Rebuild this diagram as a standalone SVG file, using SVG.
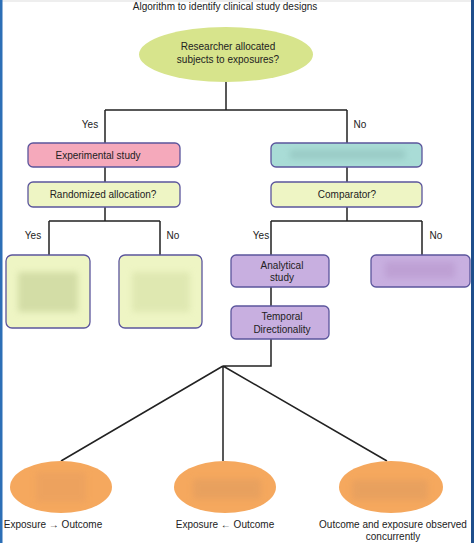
<svg xmlns="http://www.w3.org/2000/svg" width="474" height="543" viewBox="0 0 474 543">
<defs>
<style>
text{font-family:"Liberation Sans",Arial,sans-serif;font-size:10px;fill:#222;text-anchor:middle}
.c{stroke:#222;stroke-width:1.5;fill:none}
.box{stroke:#5b559c;stroke-width:1.3}
.pink{fill:#f5a9bb}
.yel{fill:#eef5c4}
.teal{fill:#a9dcd6}
.pur{fill:#c8afe0}
.org{fill:#f5a85e}
</style>
<filter id="bl" x="-30%" y="-50%" width="160%" height="200%"><feGaussianBlur stdDeviation="3"/></filter>
</defs>
<rect width="474" height="543" fill="#fff"/>
<rect x="0" y="0" width="474" height="2" fill="#eeeeee"/>
<rect x="0" y="0" width="2.5" height="543" fill="#2c6fb6"/>
<rect x="471" y="0" width="3" height="543" fill="#1f4f8c"/>
<text x="225" y="10">Algorithm to identify clinical study designs</text>

<g id="connectors">
<path class="c" d="M226 82V110M105 110H347M105 110V143M347 110V143"/>
<path class="c" d="M105 167V182M105 207V221M49 221H160M49 221V255M160 221V255"/>
<path class="c" d="M347 167V182M347 207V221M271 221H422M271 221V255M422 221V255"/>
<path class="c" d="M271 287V306M271 339V366H223M223 366L61 461M223 366V461M223 366L387 461"/>
</g>
<g id="labels">
<text x="90" y="128">Yes</text>
<text x="360" y="128">No</text>
<text x="33" y="239">Yes</text>
<text x="173" y="239">No</text>
<text x="261" y="239">Yes</text>
<text x="436" y="239">No</text>
</g>

<g id="n-root">
<ellipse cx="226" cy="54.5" rx="87" ry="27.5" fill="#d7e48c"/>
<text x="228" y="50">Researcher allocated</text>
<text x="228" y="63">subjects to exposures?</text>
</g>
<g id="n-experimental">
<rect class="box pink" x="28" y="143" width="152" height="24" rx="5"/>
<text x="98" y="158.5">Experimental study</text>
</g>
<g id="n-randomized">
<rect class="box yel" x="28" y="182" width="152" height="25" rx="5"/>
<text x="103" y="198">Randomized allocation?</text>
</g>
<g id="n-observational">
<rect class="box teal" x="271" y="143" width="151" height="24" rx="5"/>
<rect x="290" y="150" width="115" height="9" fill="#8fbfba" opacity="0.6" filter="url(#bl)"/>
</g>
<g id="n-comparator">
<rect class="box yel" x="271" y="182" width="151" height="25" rx="5"/>
<text x="347" y="198">Comparator?</text>
</g>
<g id="n-rct">
<rect class="box yel" x="6" y="255" width="84" height="73" rx="6"/>
<rect x="18" y="272" width="60" height="40" fill="#c8d39a" opacity="0.7" filter="url(#bl)"/>
</g>
<g id="n-nonrandom">
<rect class="box yel" x="119" y="255" width="83" height="73" rx="6"/>
<rect x="132" y="272" width="58" height="40" fill="#d6e0a6" opacity="0.6" filter="url(#bl)"/>
</g>
<g id="n-analytical">
<rect class="box pur" x="231" y="255" width="98" height="32" rx="5"/>
<text x="282" y="268.5">Analytical</text>
<text x="282" y="281">study</text>
</g>
<g id="n-descriptive">
<rect class="box pur" x="371" y="255" width="99" height="32" rx="5"/>
<rect x="385" y="262" width="70" height="16" fill="#b896cc" opacity="0.6" filter="url(#bl)"/>
</g>
<g id="n-temporal">
<rect class="box pur" x="231" y="306" width="98" height="33" rx="5"/>
<text x="282" y="320">Temporal</text>
<text x="282" y="333">Directionality</text>
</g>
<g id="n-cohort">
<ellipse class="org" cx="61" cy="487" rx="51" ry="26"/>
<rect x="36" y="472" width="50" height="30" fill="#e89f5e" opacity="0.6" filter="url(#bl)"/>
</g>
<g id="n-casecontrol">
<ellipse class="org" cx="225" cy="487" rx="51" ry="26"/>
<rect x="193" y="479" width="68" height="20" fill="#e09c5e" opacity="0.6" filter="url(#bl)"/>
</g>
<g id="n-crosssectional">
<ellipse class="org" cx="391" cy="487" rx="52" ry="26"/>
<rect x="352" y="480" width="76" height="20" fill="#e09c5e" opacity="0.6" filter="url(#bl)"/>
</g>
<g id="bottom-labels">
<text x="53" y="528">Exposure → Outcome</text>
<text x="225" y="528">Exposure ← Outcome</text>
<text x="393" y="528">Outcome and exposure observed</text>
<text x="393" y="540">concurrently</text>
</g>
</svg>
